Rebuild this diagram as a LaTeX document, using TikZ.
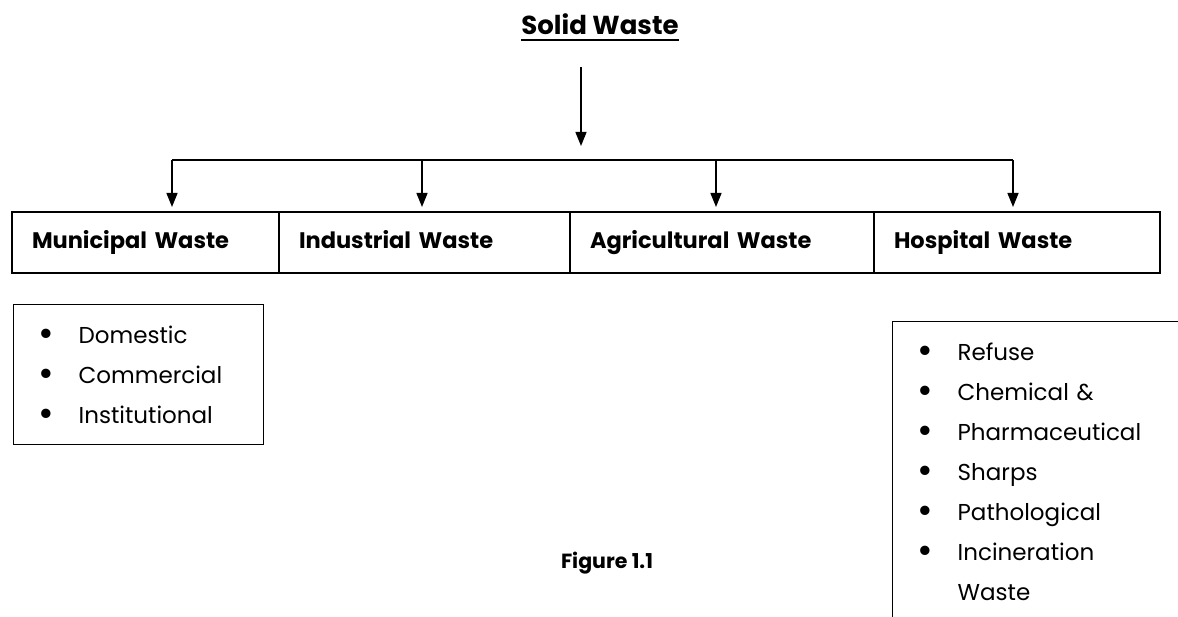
\documentclass[tikz,border=0pt]{standalone}
\usepackage{fontspec}
\setmainfont{Poppins}
\usetikzlibrary{arrows.meta,positioning}
\newcommand{\wasteitem}[1]{\makebox[40pt][l]{\raisebox{-3.5pt}[0pt][0pt]{\fontsize{38}{0}\selectfont\textbullet}}#1}

\begin{document}
\begin{tikzpicture}[x=1pt,y=-1pt]
\tikzset{
  catbox/.style={draw,line width=1.3pt,minimum height=61pt,inner xsep=20pt,inner ysep=0pt,outer sep=0pt,align=left,text height=17pt,text depth=5pt,font=\bfseries\fontsize{22.5}{26}\selectfont},
  listbox/.style={draw,line width=1.3pt,anchor=north west,inner xsep=25pt,inner ysep=21pt,align=left,font=\fontsize{23}{40}\selectfont},
  flow/.style={-{Triangle[length=14pt,width=11pt]},line width=1.4pt},
  link/.style={line width=1.4pt}
}
\path[use as bounding box,clip] (0,0) rectangle (1178,617);
\node[anchor=base,inner sep=0pt,font=\bfseries\fontsize{26}{30}\selectfont] (n_title) at (600,35) {Solid Waste};
\draw[line width=2pt] ([yshift=-5pt]n_title.base west) -- ([yshift=-5pt]n_title.base east);
\node[catbox,anchor=north west,text width=227pt] (n_mun) at (12,212) {Municipal Waste};
\node[catbox,right=0pt of n_mun,text width=251pt] (n_ind) {Industrial Waste};
\node[catbox,right=0pt of n_ind,text width=264pt] (n_agr) {Agricultural Waste};
\node[catbox,right=0pt of n_agr,text width=246pt] (n_hos) {Hospital Waste};
\coordinate (c_hub) at (581,160);
\coordinate (c_mun) at (172,160);
\coordinate (c_ind) at (422,160);
\coordinate (c_agr) at (716,160);
\coordinate (c_hos) at (1013,160);
\draw[flow,shorten <=32pt,shorten >=14pt] (c_hub |- n_title.base) -- (c_hub);
\draw[link] (c_mun) -- (c_hos);
\draw[flow,shorten >=5pt] (c_mun) -- (c_mun |- n_mun.north);
\draw[flow,shorten >=5pt] (c_ind) -- (c_ind |- n_ind.north);
\draw[flow,shorten >=5pt] (c_agr) -- (c_agr |- n_agr.north);
\draw[flow,shorten >=5pt] (c_hos) -- (c_hos |- n_hos.north);
\node[listbox,text width=200pt] (n_mun_list) at (13,304) {\wasteitem{Domestic}\\\wasteitem{Commercial}\\\wasteitem{Institutional}};
\node[listbox,text width=300pt,text depth=320pt] (n_hos_list) at (892,321) {\wasteitem{Refuse}\\\wasteitem{Chemical \&}\\\wasteitem{Pharmaceutical}\\\wasteitem{Sharps}\\\wasteitem{Pathological}\\\wasteitem{Incineration}\\\hspace*{40pt}Waste};
\node[font=\bfseries\fontsize{20.5}{24}\selectfont] (n_fig) at (607,563) {Figure 1.1};
\end{tikzpicture}
\end{document}
